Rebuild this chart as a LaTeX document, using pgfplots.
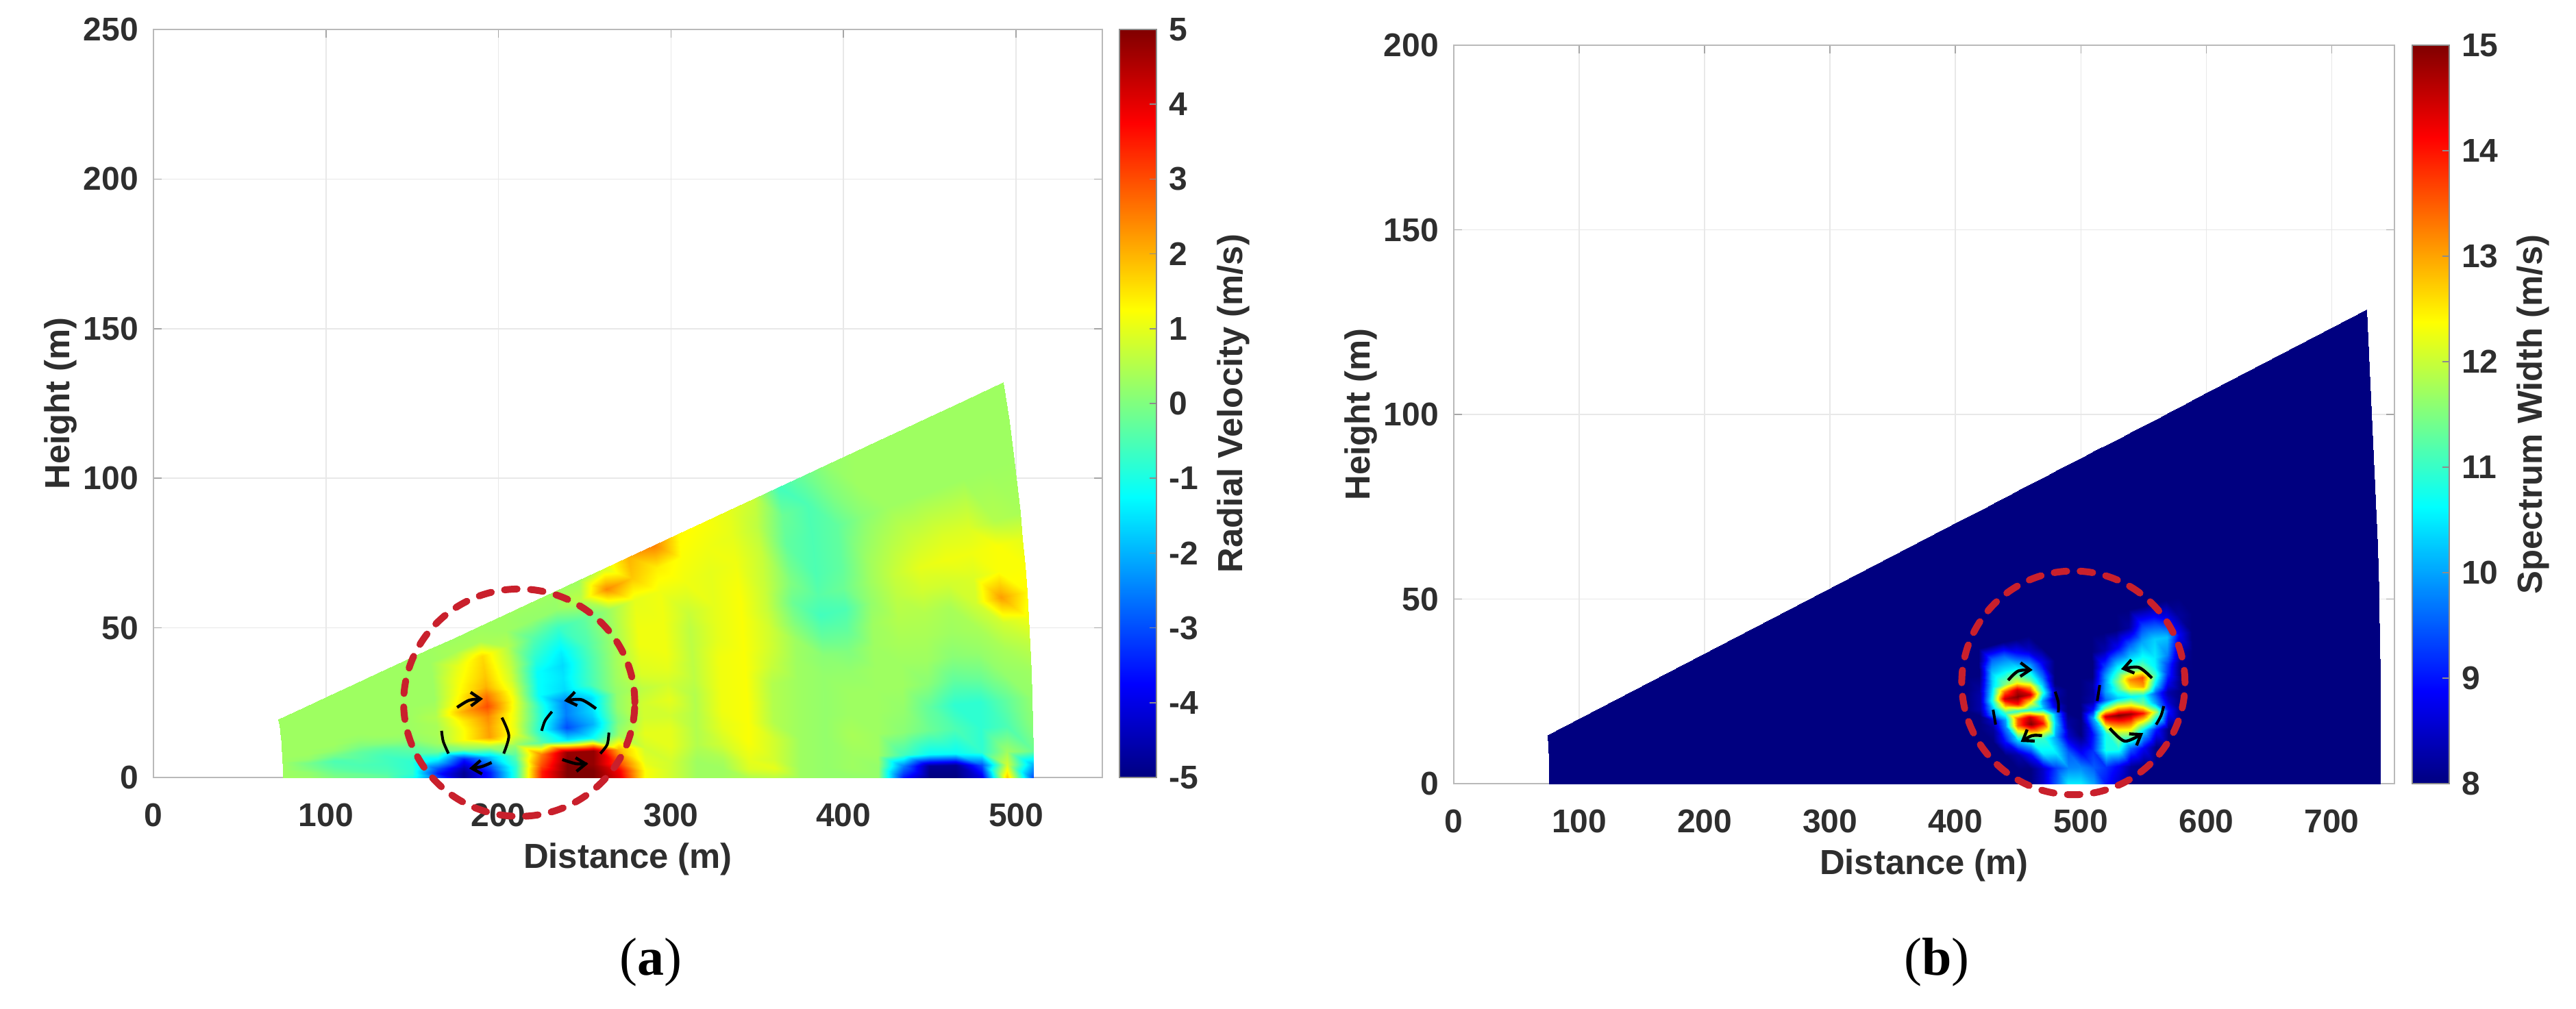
\documentclass[border=0pt]{standalone}
\usepackage{fontspec}
\setmainfont{Liberation Sans}
\newfontfamily\capfont{Liberation Serif}
\usepackage{pgfplots}
\usetikzlibrary{arrows.meta}
\pgfplotsset{compat=1.18}
\definecolor{txt}{HTML}{2E2E2E}
\definecolor{dashred}{HTML}{C9202C}
\pgfplotsset{
  panel/.style={
    scale only axis, clip=false,
    tick align=inside, tick pos=both, major tick length=3pt,
    every tick/.style={draw=gray!70,line width=0.4pt},
    axis line style={draw=gray!55,line width=0.5pt},
    grid=major, grid style={draw=gray!18,line width=0.4pt},
    colormap/jet, colorbar,
    /pgf/number format/assume math mode=true,
    /pgf/number format/1000 sep={},
    tick label style={font=\fontsize{12}{14}\selectfont\bfseries,text=txt},
    label style={font=\fontsize{12.7}{15}\selectfont\bfseries,text=txt},
    xticklabel style={yshift=-6pt},
    yticklabel style={xshift=-2pt},
  },
  cbar/.style={
    anchor=north west, width=13.5pt,
    axis line style={draw=black!45,line width=0.4pt}, tick align=inside,
    major tick length=2.5pt, tick pos=right,
    every tick/.style={draw=black!45,line width=0.4pt},
    /pgf/number format/assume math mode=true,
    tick label style={font=\fontsize{12}{14}\selectfont\bfseries,text=txt},
    yticklabel style={xshift=1pt},
    label style={font=\fontsize{12.7}{15}\selectfont\bfseries,text=txt},
  },
  vort/.style={black,line width=1pt,smooth},
  vorta/.style={black,line width=1.1pt,smooth,-{Straight Barb[length=3.5pt,width=5pt]}},
}
\begin{document}
\begin{tikzpicture}[x=1pt,y=1pt]
\useasboundingbox (0,0) rectangle (940,368);
% ---------------- panel (a)
\begin{axis}[panel, at={(56pt,84.25pt)}, anchor=south west,
  width=346.25pt, height=273pt,
  xmin=0, xmax=550, ymin=0, ymax=250,
  xtick={0,100,...,500}, ytick={0,50,...,250},
  xlabel={Distance (m)}, ylabel={Height (m)},
  xlabel style={yshift=1pt}, ylabel style={yshift=-4.5pt},
  point meta min=-5, point meta max=5,
  colorbar style={cbar, at={(1.018,1)}, ytick={-5,-4,...,5}, ylabel={Radial Velocity (m/s)}},
]
\addplot[surf, shader=interp, mesh/cols=30, point meta=\thisrow{z}]
 table[row sep=\\, x expr=\thisrow{r}*cos(\thisrow{t}), y expr=\thisrow{r}*sin(\thisrow{t})] {
r t z\\
75 0 .3\\ 90 0 .3\\ 105 0 0\\ 120 0 -.2\\ 135 0 -.3\\ 150 0 -1\\ 165 0 -3\\ 180 0 -4.8\\ 195 0 -3.5\\ 210 0 -.8\\ 225 0 3.5\\ 240 0 5\\ 255 0 5\\ 270 0 4\\ 285 0 1.2\\ 300 0 .8\\ 315 0 .3\\ 330 0 .3\\ 345 0 .5\\ 360 0 .6\\ 375 0 .3\\ 390 0 .2\\ 405 0 .2\\ 420 0 .2\\ 435 0 -3.5\\ 450 0 -5\\ 465 0 -5\\ 480 0 -4\\ 495 0 1.8\\ 510 0 -3\\
75 .5 .3\\ 90 .5 .2\\ 105 .5 -.1\\ 120 .5 -.2\\ 135 .5 -.4\\ 150 .5 -.8\\ 165 .5 -3.5\\ 180 .5 -4.8\\ 195 .5 -3.5\\ 210 .5 -.8\\ 225 .5 3.5\\ 240 .5 5\\ 255 .5 5\\ 270 .5 3.8\\ 285 .5 1.2\\ 300 .5 .8\\ 315 .5 .3\\ 330 .5 .3\\ 345 .5 .9\\ 360 .5 1\\ 375 .5 .3\\ 390 .5 .2\\ 405 .5 .3\\ 420 .5 .2\\ 435 .5 -2.5\\ 450 .5 -4.8\\ 465 .5 -4.8\\ 480 .5 -3\\ 495 .5 .8\\ 510 .5 -2\\
75 1 .3\\ 90 1 .2\\ 105 1 -.2\\ 120 1 -.4\\ 135 1 -.5\\ 150 1 -.8\\ 165 1 -3\\ 180 1 -4.5\\ 195 1 -3\\ 210 1 -.8\\ 225 1 3\\ 240 1 5\\ 255 1 4.8\\ 270 1 3\\ 285 1 1\\ 300 1 .8\\ 315 1 .3\\ 330 1 .4\\ 345 1 1\\ 360 1 .8\\ 375 1 .3\\ 390 1 .2\\ 405 1 .3\\ 420 1 .3\\ 435 1 -.6\\ 450 1 -1.2\\ 465 1 -1.2\\ 480 1 -.8\\ 495 1 .3\\ 510 1 -.2\\
75 2 .3\\ 90 2 0\\ 105 2 -.4\\ 120 2 -.5\\ 135 2 -.6\\ 150 2 -.8\\ 165 2 -1.5\\ 180 2 -3.5\\ 195 2 -1.8\\ 210 2 -.4\\ 225 2 2.5\\ 240 2 4.8\\ 255 2 4.8\\ 270 2 2\\ 285 2 .8\\ 300 2 1\\ 315 2 .5\\ 330 2 .8\\ 345 2 1.2\\ 360 2 .8\\ 375 2 .3\\ 390 2 .2\\ 405 2 .4\\ 420 2 .3\\ 435 2 .1\\ 450 2 -.2\\ 465 2 -.5\\ 480 2 -.8\\ 495 2 -.5\\ 510 2 .1\\
75 3 .3\\ 90 3 -.1\\ 105 3 -.5\\ 120 3 -.4\\ 135 3 -.6\\ 150 3 -.5\\ 165 3 -.2\\ 180 3 0\\ 195 3 .4\\ 210 3 .3\\ 225 3 -.4\\ 240 3 -1.5\\ 255 3 -1.2\\ 270 3 .3\\ 285 3 1\\ 300 3 1\\ 315 3 .5\\ 330 3 1\\ 345 3 1.2\\ 360 3 .5\\ 375 3 .3\\ 390 3 .2\\ 405 3 .3\\ 420 3 .3\\ 435 3 .2\\ 450 3 -.3\\ 465 3 -.8\\ 480 3 -.8\\ 495 3 -.3\\ 510 3 .2\\
75 4 .3\\ 90 4 .2\\ 105 4 -.1\\ 120 4 -.3\\ 135 4 -.4\\ 150 4 -.2\\ 165 4 .3\\ 180 4 1.2\\ 195 4 2.2\\ 210 4 1\\ 225 4 -1\\ 240 4 -3\\ 255 4 -2\\ 270 4 0\\ 285 4 .8\\ 300 4 .8\\ 315 4 .5\\ 330 4 1.1\\ 345 4 1.2\\ 360 4 .5\\ 375 4 .3\\ 390 4 .2\\ 405 4 .3\\ 420 4 .3\\ 435 4 .3\\ 450 4 .1\\ 465 4 -.3\\ 480 4 -.2\\ 495 4 .2\\ 510 4 .3\\
75 5 .3\\ 90 5 .3\\ 105 5 .2\\ 120 5 0\\ 135 5 .1\\ 150 5 .2\\ 165 5 .4\\ 180 5 1.2\\ 195 5 2.2\\ 210 5 1\\ 225 5 -.8\\ 240 5 -2.5\\ 255 5 -1.6\\ 270 5 .2\\ 285 5 .8\\ 300 5 1\\ 315 5 .5\\ 330 5 1.1\\ 345 5 1.2\\ 360 5 .5\\ 375 5 .3\\ 390 5 .2\\ 405 5 .2\\ 420 5 .3\\ 435 5 .3\\ 450 5 .3\\ 465 5 .1\\ 480 5 .2\\ 495 5 .4\\ 510 5 .6\\
75 6 .3\\ 90 6 .3\\ 105 6 .3\\ 120 6 .2\\ 135 6 .3\\ 150 6 .3\\ 165 6 .4\\ 180 6 1.4\\ 195 6 2.4\\ 210 6 1.1\\ 225 6 -.8\\ 240 6 -2.5\\ 255 6 -1.6\\ 270 6 .2\\ 285 6 .6\\ 300 6 .8\\ 315 6 .6\\ 330 6 1.1\\ 345 6 1.2\\ 360 6 .7\\ 375 6 .3\\ 390 6 .1\\ 405 6 0\\ 420 6 .3\\ 435 6 .4\\ 450 6 .4\\ 465 6 .3\\ 480 6 .4\\ 495 6 .8\\ 510 6 1.1\\
75 7 .3\\ 90 7 .3\\ 105 7 .3\\ 120 7 .3\\ 135 7 .3\\ 150 7 .3\\ 165 7 .5\\ 180 7 2\\ 195 7 3\\ 210 7 1.2\\ 225 7 -1.2\\ 240 7 -1.6\\ 255 7 -.6\\ 270 7 .3\\ 285 7 .9\\ 300 7 1\\ 315 7 .6\\ 330 7 1.1\\ 345 7 1.2\\ 360 7 .8\\ 375 7 .3\\ 390 7 -.3\\ 405 7 -.3\\ 420 7 .3\\ 435 7 .5\\ 450 7 .5\\ 465 7 .4\\ 480 7 .8\\ 495 7 2.2\\ 510 7 1.3\\
75 8 .3\\ 90 8 .3\\ 105 8 .3\\ 120 8 .3\\ 135 8 .3\\ 150 8 .3\\ 165 8 .4\\ 180 8 1.5\\ 195 8 2.6\\ 210 8 1\\ 225 8 -1.2\\ 240 8 -1.5\\ 255 8 -.6\\ 270 8 .3\\ 285 8 1\\ 300 8 1.1\\ 315 8 .6\\ 330 8 1\\ 345 8 1.2\\ 360 8 .8\\ 375 8 0\\ 390 8 -.6\\ 405 8 -.5\\ 420 8 .2\\ 435 8 .6\\ 450 8 .8\\ 465 8 .8\\ 480 8 .9\\ 495 8 1.2\\ 510 8 1.2\\
75 9 .3\\ 90 9 .3\\ 105 9 .3\\ 120 9 .3\\ 135 9 .3\\ 150 9 .3\\ 165 9 .3\\ 180 9 1.3\\ 195 9 2\\ 210 9 .8\\ 225 9 -1.2\\ 240 9 -1.6\\ 255 9 -.6\\ 270 9 .3\\ 285 9 1.1\\ 300 9 1.1\\ 315 9 .6\\ 330 9 1\\ 345 9 1.2\\ 360 9 .7\\ 375 9 -.2\\ 390 9 -.4\\ 405 9 -.2\\ 420 9 .3\\ 435 9 .7\\ 450 9 1\\ 465 9 1.1\\ 480 9 1.1\\ 495 9 1.2\\ 510 9 1\\
75 10 .3\\ 90 10 .3\\ 105 10 .3\\ 120 10 .3\\ 135 10 .3\\ 150 10 .3\\ 165 10 .3\\ 180 10 1.2\\ 195 10 1.8\\ 210 10 .7\\ 225 10 -.9\\ 240 10 -1.4\\ 255 10 -.5\\ 270 10 .3\\ 285 10 1.1\\ 300 10 1.1\\ 315 10 .7\\ 330 10 1\\ 345 10 1.2\\ 360 10 .7\\ 375 10 0\\ 390 10 -.5\\ 405 10 -.3\\ 420 10 .3\\ 435 10 .6\\ 450 10 .8\\ 465 10 .9\\ 480 10 .9\\ 495 10 .5\\ 510 10 .4\\
75 12 .3\\ 90 12 .3\\ 105 12 .3\\ 120 12 .3\\ 135 12 .3\\ 150 12 .3\\ 165 12 .3\\ 180 12 1\\ 195 12 1.6\\ 210 12 .5\\ 225 12 -.4\\ 240 12 -.7\\ 255 12 -.3\\ 270 12 .3\\ 285 12 1\\ 300 12 1.1\\ 315 12 1.1\\ 330 12 1\\ 345 12 1.1\\ 360 12 .7\\ 375 12 -.3\\ 390 12 -.5\\ 405 12 -.3\\ 420 12 .1\\ 435 12 .3\\ 450 12 .3\\ 465 12 .3\\ 480 12 .3\\ 495 12 .3\\ 510 12 .3\\
75 13.5 .3\\ 90 13.5 .3\\ 105 13.5 .3\\ 120 13.5 .3\\ 135 13.5 .3\\ 150 13.5 .3\\ 165 13.5 .3\\ 180 13.5 .4\\ 195 13.5 .4\\ 210 13.5 .3\\ 225 13.5 .2\\ 240 13.5 .2\\ 255 13.5 .6\\ 270 13.5 2.4\\ 285 13.5 1.8\\ 300 13.5 1.4\\ 315 13.5 1.2\\ 330 13.5 1.1\\ 345 13.5 1\\ 360 13.5 .6\\ 375 13.5 -.2\\ 390 13.5 -.5\\ 405 13.5 0\\ 420 13.5 .3\\ 435 13.5 .3\\ 450 13.5 .3\\ 465 13.5 .3\\ 480 13.5 .3\\ 495 13.5 .3\\ 510 13.5 .3\\
75 15 .3\\ 90 15 .3\\ 105 15 .3\\ 120 15 .3\\ 135 15 .3\\ 150 15 .3\\ 165 15 .3\\ 180 15 .3\\ 195 15 .3\\ 210 15 .3\\ 225 15 .3\\ 240 15 .3\\ 255 15 .3\\ 270 15 .8\\ 285 15 2\\ 300 15 2.5\\ 315 15 1.3\\ 330 15 1.2\\ 345 15 1\\ 360 15 .7\\ 375 15 -.6\\ 390 15 -.2\\ 405 15 .2\\ 420 15 .3\\ 435 15 .3\\ 450 15 .3\\ 465 15 .3\\ 480 15 .3\\ 495 15 .3\\ 510 15 .3\\
};
\draw[dashred,line width=2.5pt,line cap=round,dash pattern=on 4.6pt off 4.9pt]
  (axis cs:212,25) ellipse [x radius=67,y radius=38];
\addplot[vorta] coordinates {(176,23.4) (183,25.8) (191,26.3)};
\addplot[vorta] coordinates {(196,5) (190,3.6) (183,3)};
\addplot[vort] coordinates {(167,15.6) (168,12) (171,8)};
\addplot[vort] coordinates {(202,20) (206,14) (203,8)};
\addplot[vorta] coordinates {(256.5,23) (248,26) (238,25.6)};
\addplot[vort] coordinates {(231,22) (227,19) (225,15.6)};
\addplot[vort] coordinates {(264,15) (263,11) (259,8)};
\addplot[vorta] coordinates {(237,6) (245,4.6) (252,4.6)};
\end{axis}
% ---------------- panel (b)
\begin{axis}[panel, at={(530.5pt,82pt)}, anchor=south west,
  width=343.25pt, height=269.5pt,
  xmin=0, xmax=750, ymin=0, ymax=200,
  xtick={0,100,...,700}, ytick={0,50,...,200},
  xlabel={Distance (m)}, ylabel={Height (m)},
  xlabel style={yshift=1pt}, ylabel style={yshift=-4.5pt},
  point meta min=8, point meta max=15,
  colorbar style={cbar, at={(1.019,1)}, ytick={8,9,...,15}, ylabel={Spectrum Width (m/s)}},
]
\addplot[surf, shader=interp, mesh/cols=22, point meta=\thisrow{z}]
 table[row sep=\\, x expr=\thisrow{r}*cos(\thisrow{t}), y expr=\thisrow{r}*sin(\thisrow{t})] {
r t z\\
76 0 8\\ 410 0 8\\ 420 0 8\\ 430 0 8\\ 440 0 8\\ 450 0 8\\ 460 0 8\\ 470 0 8.5\\ 480 0 9.5\\ 490 0 10.5\\ 500 0 10.5\\ 510 0 10\\ 520 0 9\\ 530 0 8.5\\ 540 0 8\\ 550 0 8\\ 560 0 8\\ 570 0 8\\ 580 0 8\\ 590 0 8\\ 600 0 8\\ 739 0 8\\
76 .5 8\\ 410 .5 8\\ 420 .5 8\\ 430 .5 8\\ 440 .5 8\\ 450 .5 8\\ 460 .5 8\\ 470 .5 8.5\\ 480 .5 9.3\\ 490 .5 9.8\\ 500 .5 9.8\\ 510 .5 9.5\\ 520 .5 9.2\\ 530 .5 8.8\\ 540 .5 8.2\\ 550 .5 8\\ 560 .5 8\\ 570 .5 8\\ 580 .5 8\\ 590 .5 8\\ 600 .5 8\\ 739 .5 8\\
76 1 8\\ 410 1 8\\ 420 1 8\\ 430 1 8\\ 440 1 8\\ 450 1 8.3\\ 460 1 9\\ 470 1 10.5\\ 480 1 10.5\\ 490 1 9.5\\ 500 1 8.8\\ 510 1 9.2\\ 520 1 10.8\\ 530 1 10.8\\ 540 1 9.5\\ 550 1 8.8\\ 560 1 8\\ 570 1 8\\ 580 1 8\\ 590 1 8\\ 600 1 8\\ 739 1 8\\
76 1.5 8\\ 410 1.5 8\\ 420 1.5 8\\ 430 1.5 8\\ 440 1.5 9\\ 450 1.5 10.3\\ 460 1.5 11\\ 470 1.5 11\\ 480 1.5 10\\ 490 1.5 8.5\\ 500 1.5 8\\ 510 1.5 9\\ 520 1.5 10.8\\ 530 1.5 12\\ 540 1.5 12\\ 550 1.5 10.5\\ 560 1.5 9\\ 570 1.5 8\\ 580 1.5 8\\ 590 1.5 8\\ 600 1.5 8\\ 739 1.5 8\\
76 2 8\\ 410 2 8\\ 420 2 8\\ 430 2 8.2\\ 440 2 9.8\\ 450 2 13.5\\ 460 2 15\\ 470 2 14\\ 480 2 10.3\\ 490 2 8.2\\ 500 2 8\\ 510 2 10\\ 520 2 14.5\\ 530 2 15\\ 540 2 14.8\\ 550 2 14\\ 560 2 11.8\\ 570 2 9\\ 580 2 8\\ 590 2 8\\ 600 2 8\\ 739 2 8\\
76 2.25 8\\ 410 2.25 8\\ 420 2.25 8\\ 430 2.25 8.5\\ 440 2.25 10\\ 450 2.25 13.5\\ 460 2.25 14.5\\ 470 2.25 13\\ 480 2.25 10\\ 490 2.25 8\\ 500 2.25 8\\ 510 2.25 9\\ 520 2.25 11.5\\ 530 2.25 12.5\\ 540 2.25 12.5\\ 550 2.25 11.5\\ 560 2.25 10\\ 570 2.25 8.5\\ 580 2.25 8\\ 590 2.25 8\\ 600 2.25 8\\ 739 2.25 8\\
76 2.5 8\\ 410 2.5 8\\ 420 2.5 8\\ 430 2.5 9.8\\ 440 2.5 11\\ 450 2.5 11\\ 460 2.5 10.8\\ 470 2.5 10.2\\ 480 2.5 8.6\\ 490 2.5 8\\ 500 2.5 8\\ 510 2.5 8.3\\ 520 2.5 9.6\\ 530 2.5 10.3\\ 540 2.5 10.6\\ 550 2.5 10.8\\ 560 2.5 9.5\\ 570 2.5 8.3\\ 580 2.5 8\\ 590 2.5 8\\ 600 2.5 8\\ 739 2.5 8\\
76 2.75 8\\ 410 2.75 8\\ 420 2.75 8.3\\ 430 2.75 10.2\\ 440 2.75 13\\ 450 2.75 14\\ 460 2.75 12.5\\ 470 2.75 10\\ 480 2.75 8.2\\ 490 2.75 8\\ 500 2.75 8\\ 510 2.75 8.2\\ 520 2.75 10\\ 530 2.75 11\\ 540 2.75 12.5\\ 550 2.75 13\\ 560 2.75 10.5\\ 570 2.75 8.8\\ 580 2.75 8\\ 590 2.75 8\\ 600 2.75 8\\ 739 2.75 8\\
76 3 8\\ 410 3 8\\ 420 3 8.3\\ 430 3 10.8\\ 440 3 14.5\\ 450 3 15\\ 460 3 14.5\\ 470 3 11\\ 480 3 8.3\\ 490 3 8\\ 500 3 8\\ 510 3 8.2\\ 520 3 10\\ 530 3 11.5\\ 540 3 13.2\\ 550 3 13.6\\ 560 3 11\\ 570 3 9.2\\ 580 3 8\\ 590 3 8\\ 600 3 8\\ 739 3 8\\
76 3.25 8\\ 410 3.25 8\\ 420 3.25 8.3\\ 430 3.25 10.6\\ 440 3.25 13.5\\ 450 3.25 14.5\\ 460 3.25 13\\ 470 3.25 10.3\\ 480 3.25 8\\ 490 3.25 8\\ 500 3.25 8\\ 510 3.25 8\\ 520 3.25 9.8\\ 530 3.25 11\\ 540 3.25 11.5\\ 550 3.25 11.5\\ 560 3.25 10.6\\ 570 3.25 9.3\\ 580 3.25 8.1\\ 590 3.25 8\\ 600 3.25 8\\ 739 3.25 8\\
76 3.5 8\\ 410 3.5 8\\ 420 3.5 8.2\\ 430 3.5 10.4\\ 440 3.5 11.5\\ 450 3.5 12.2\\ 460 3.5 11.3\\ 470 3.5 9.7\\ 480 3.5 8\\ 490 3.5 8\\ 500 3.5 8\\ 510 3.5 8\\ 520 3.5 9.3\\ 530 3.5 10.3\\ 540 3.5 10.6\\ 550 3.5 10.8\\ 560 3.5 10.5\\ 570 3.5 9.8\\ 580 3.5 8.3\\ 590 3.5 8\\ 600 3.5 8\\ 739 3.5 8\\
76 4 8\\ 410 4 8\\ 420 4 8\\ 430 4 10.2\\ 440 4 10.5\\ 450 4 10.5\\ 460 4 10\\ 470 4 8.8\\ 480 4 8\\ 490 4 8\\ 500 4 8\\ 510 4 8\\ 520 4 8.3\\ 530 4 8.8\\ 540 4 9.5\\ 550 4 10\\ 560 4 10.3\\ 570 4 10.2\\ 580 4 8.8\\ 590 4 8\\ 600 4 8\\ 739 4 8\\
76 4.5 8\\ 410 4.5 8\\ 420 4.5 8\\ 430 4.5 9.5\\ 440 4.5 9.6\\ 450 4.5 9\\ 460 4.5 8.5\\ 470 4.5 8\\ 480 4.5 8\\ 490 4.5 8\\ 500 4.5 8\\ 510 4.5 8\\ 520 4.5 8\\ 530 4.5 8\\ 540 4.5 8.2\\ 550 4.5 9.2\\ 560 4.5 9.2\\ 570 4.5 8.8\\ 580 4.5 8.2\\ 590 4.5 8\\ 600 4.5 8\\ 739 4.5 8\\
76 5 8\\ 410 5 8\\ 420 5 8\\ 430 5 8\\ 440 5 8\\ 450 5 8\\ 460 5 8\\ 470 5 8\\ 480 5 8\\ 490 5 8\\ 500 5 8\\ 510 5 8\\ 520 5 8\\ 530 5 8\\ 540 5 8\\ 550 5 8\\ 560 5 8\\ 570 5 8\\ 580 5 8\\ 590 5 8\\ 600 5 8\\ 739 5 8\\
76 10 8\\ 410 10 8\\ 420 10 8\\ 430 10 8\\ 440 10 8\\ 450 10 8\\ 460 10 8\\ 470 10 8\\ 480 10 8\\ 490 10 8\\ 500 10 8\\ 510 10 8\\ 520 10 8\\ 530 10 8\\ 540 10 8\\ 550 10 8\\ 560 10 8\\ 570 10 8\\ 580 10 8\\ 590 10 8\\ 600 10 8\\ 739 10 8\\
};
\draw[dashred,line width=2.5pt,line cap=round,dash pattern=on 4.6pt off 4.9pt]
  (axis cs:494,27.3) ellipse [x radius=89,y radius=30.3];
\addplot[vorta] coordinates {(442,28) (450,30.5) (461.5,30.8)};
\addplot[vorta] coordinates {(469,13) (461,13) (452,11.3)};
\addplot[vorta] coordinates {(556.6,28.6) (546,31.5) (532,31)};
\addplot[vorta] coordinates {(523,15) (535,11.5) (549.6,13.7)};
\addplot[vort] coordinates {(479.5,24.9) (482,22) (482,19.3)};
\addplot[vort] coordinates {(430,20) (431,18) (432,16)};
\addplot[vort] coordinates {(515,26.7) (514,24.5) (513,22.4)};
\addplot[vort] coordinates {(566,21) (564,18.5) (560,16)};
\end{axis}
\node[font=\capfont\fontsize{19.5}{22}\selectfont,text=black] at (237.5,16.75) {(\textbf{a})};
\node[font=\capfont\fontsize{19.5}{22}\selectfont,text=black] at (706.75,16.75) {(\textbf{b})};
\end{tikzpicture}
\end{document}
